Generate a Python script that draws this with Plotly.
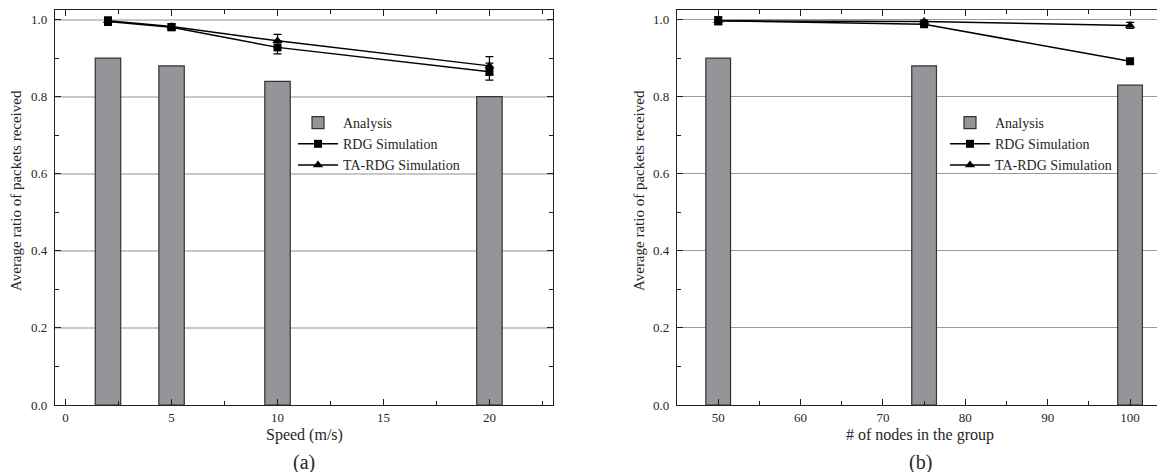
import plotly.graph_objects as go

# ---- panel (a) data ----
speed = [2, 5, 10, 20]
analysis_a = [0.90, 0.88, 0.84, 0.80]
rdg_a = [0.995, 0.980, 0.928, 0.865]
rdg_a_err = [0.010, 0.008, 0.017, 0.022]
ta_a = [0.997, 0.982, 0.945, 0.880]
ta_a_err = [0.010, 0.008, 0.017, 0.024]

# ---- panel (b) data ----
nodes = [50, 75, 100]
analysis_b = [0.90, 0.88, 0.83]
rdg_b = [0.997, 0.988, 0.892]
rdg_b_err = [0.010, 0.004, 0.006]
ta_b = [0.997, 0.995, 0.985]
ta_b_err = [0.010, 0.004, 0.008]

yticks = [0.0, 0.2, 0.4, 0.6, 0.8, 1.0]
ytick_text = ["0.0", "0.2", "0.4", "0.6", "0.8", "1.0"]
xticks_a = [0, 5, 10, 15, 20]
xticks_b = [50, 60, 70, 80, 90, 100]

FONT = "Liberation Serif"
TXT = "#262626"
BAR_COLOR = "#939598"
BAR_LINE = "#333333"

W, H = 1165, 472
OFF = 8      # page body margin offset
HEFF = 464   # effective drawn height


def px(x):
    return (x - OFF) / W


def py(y):
    return 1 - (y - OFF) / HEFF


fig = go.Figure()


def add_panel(xs, ana, rdg, rdg_err, ta, ta_err, xa, ya, legend, width):
    fig.add_trace(go.Bar(x=xs, y=ana, width=width, name="Analysis",
                         marker=dict(color=BAR_COLOR, line=dict(color=BAR_LINE, width=1.2)),
                         xaxis=xa, yaxis=ya, legend=legend))
    fig.add_trace(go.Scatter(x=xs, y=rdg, mode="lines+markers", name="RDG Simulation",
                             line=dict(color="black", width=1.5),
                             marker=dict(symbol="square", size=8, color="black"),
                             error_y=dict(type="data", array=rdg_err, color="black", thickness=1.2, width=4),
                             xaxis=xa, yaxis=ya, legend=legend))
    fig.add_trace(go.Scatter(x=xs, y=ta, mode="lines+markers", name="TA-RDG Simulation",
                             line=dict(color="black", width=1.5),
                             marker=dict(symbol="triangle-up", size=9, color="black"),
                             error_y=dict(type="data", array=ta_err, color="black", thickness=1.2, width=4),
                             xaxis=xa, yaxis=ya, legend=legend))


add_panel(speed, analysis_a, rdg_a, rdg_a_err, ta_a, ta_a_err, "x", "y", "legend", 1.2)
add_panel(nodes, analysis_b, rdg_b, rdg_b_err, ta_b, ta_b_err, "x2", "y2", "legend2", 3)

ydom = [py(405), py(10)]

axis_common = dict(showline=True, linecolor="#222", linewidth=1.3, mirror="ticks",
                   ticks="inside", ticklen=6, tickwidth=1.2, tickcolor="#222",
                   tickfont=dict(family=FONT, size=13, color=TXT), zeroline=False)

fig.update_layout(
    width=W, height=H,
    margin=dict(l=0, r=0, t=0, b=0),
    paper_bgcolor="white", plot_bgcolor="white",
    font=dict(family=FONT, color=TXT),
    barmode="overlay",
    xaxis=dict(domain=[px(55), px(553)], range=[-0.5, 23], tickvals=xticks_a,
               showgrid=False, anchor="y",
               minor=dict(ticks="inside", dtick=2.5, ticklen=4, tickcolor="#222", showgrid=False),
               **axis_common),
    yaxis=dict(domain=ydom, range=[0, 1.025], tickvals=yticks, ticktext=ytick_text,
               showgrid=True, gridcolor="#c8c8c8", gridwidth=1.5, anchor="x", ticklabelstandoff=4,
               minor=dict(ticks="inside", dtick=0.1, ticklen=4, tickcolor="#222", showgrid=False),
               **axis_common),
    xaxis2=dict(domain=[px(677), px(1163)], range=[45, 104], tickvals=xticks_b,
                showgrid=False, anchor="y2",
                minor=dict(ticks="inside", dtick=5, ticklen=4, tickcolor="#222", showgrid=False),
                **axis_common),
    yaxis2=dict(domain=ydom, range=[0, 1.025], tickvals=yticks, ticktext=ytick_text,
                showgrid=True, gridcolor="#9a9a9a", gridwidth=1, anchor="x2", ticklabelstandoff=4,
                minor=dict(ticks="inside", dtick=0.1, ticklen=4, tickcolor="#222", showgrid=False),
                **axis_common),
    legend=dict(x=px(293), y=py(107), xanchor="left", yanchor="top",
                bgcolor="rgba(255,255,255,0)", font=dict(family=FONT, size=14, color=TXT),
                tracegroupgap=0, itemwidth=40),
    legend2=dict(x=px(945), y=py(107), xanchor="left", yanchor="top",
                 bgcolor="rgba(255,255,255,0)", font=dict(family=FONT, size=14, color=TXT),
                 tracegroupgap=0, itemwidth=40),
    showlegend=True,
)

annos = [
    ("Speed (m/s)", (55 + 553) / 2, 435, 16, 0),
    ("# of nodes in the group", (677 + 1163) / 2, 435, 16, 0),
    ("(a)", (55 + 553) / 2, 462, 20, 0),
    ("(b)", (677 + 1163) / 2, 462, 20, 0),
    ("Average ratio of packets received", 16, 191, 15, -90),
    ("Average ratio of packets received", 639, 191, 15, -90),
]
for text, x, y, size, ang in annos:
    fig.add_annotation(text=text, x=px(x), y=py(y), xref="paper", yref="paper",
                       xanchor="center", yanchor="middle", textangle=ang, showarrow=False,
                       font=dict(family=FONT, size=size, color=TXT))

fig.write_html("out.html")
